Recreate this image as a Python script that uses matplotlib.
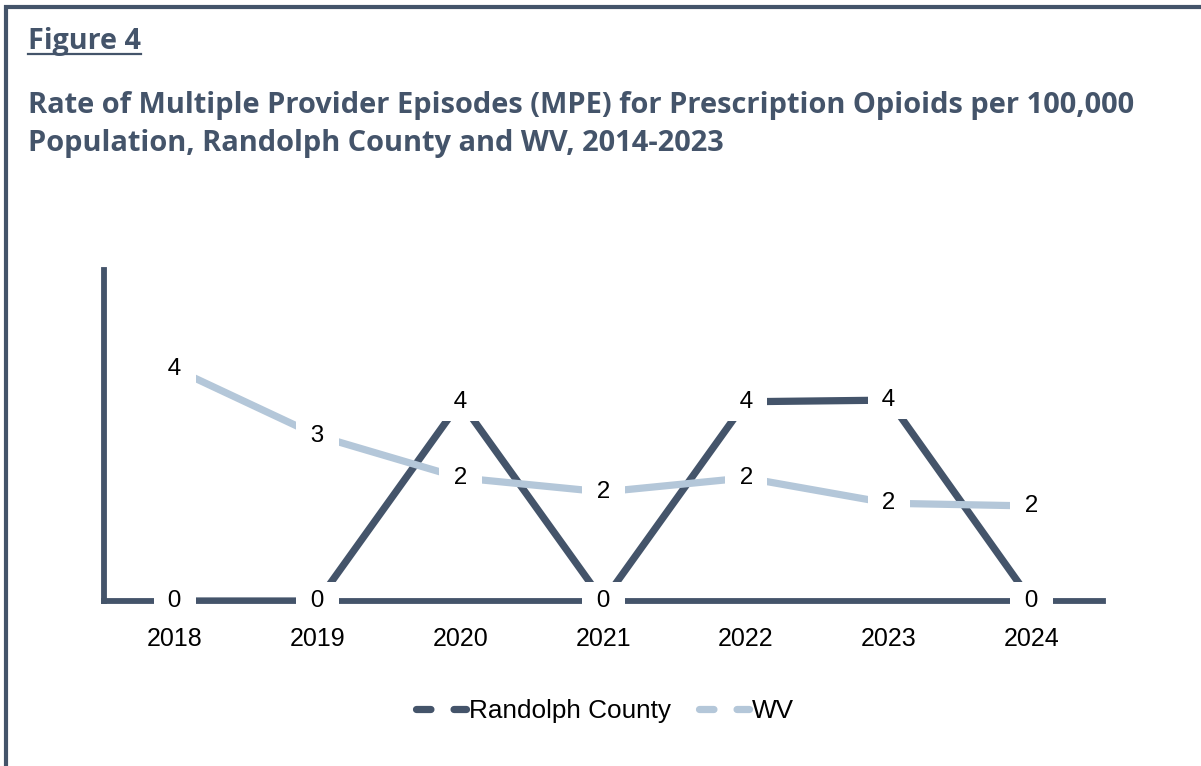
import matplotlib.pyplot as plt
from matplotlib.lines import Line2D
import numpy as np

# data (rate per 100,000)
years = ['2018', '2019', '2020', '2021', '2022', '2023', '2024']
randolph = [0, 0, 3.69, 0, 3.69, 3.72, 0]
wv = [4.30, 3.06, 2.28, 2.02, 2.28, 1.81, 1.76]
series_names = ['Randolph County', 'WV']

slate = '#44546A'
light = '#B4C7D9'
W, H = 1201, 766

plt.rcParams['font.family'] = ['Liberation Sans', 'DejaVu Sans']

fig = plt.figure(figsize=(W / 100, H / 100), dpi=100)
fig.patch.set_facecolor('white')

# frame lines (top and left only)
fig.add_artist(Line2D([4 / W, 1], [1 - 7 / H, 1 - 7 / H], transform=fig.transFigure,
                      color=slate, lw=3, solid_capstyle='butt'))
fig.add_artist(Line2D([6 / W, 6 / W], [0, 1 - 5 / H], transform=fig.transFigure,
                      color=slate, lw=3, solid_capstyle='butt'))

# titles
tfont = ['Open Sans', 'DejaVu Sans']
t_fig = fig.text(28 / W, 1 - 42 / H, 'Figure 4', color=slate, fontsize=20.7,
                 fontweight='bold', family=tfont, ha='left', va='center')
fig.text(28 / W, 1 - 106 / H,
         'Rate of Multiple Provider Episodes (MPE) for Prescription Opioids per 100,000',
         color=slate, fontsize=20.9, fontweight='bold', family=tfont,
         ha='left', va='center')
fig.text(28 / W, 1 - 144 / H, 'Population, Randolph County and WV, 2014-2023',
         color=slate, fontsize=20.9, fontweight='bold', family=tfont,
         ha='left', va='center')

ax = fig.add_axes([103.5 / W, (H - 601) / H, (1103 - 103.5) / W, (601 - 270) / H])
x = np.arange(len(years))

ax.plot(x, randolph, color=slate, lw=5.2, solid_capstyle='butt', zorder=3)
ax.plot(x, wv, color=light, lw=5.2, solid_capstyle='butt', zorder=4)

for xi, v in zip(x, randolph):
    ax.text(xi, v, ' %.0f ' % v, ha='center', va='center', fontsize=17.5, color='black',
            zorder=6, bbox=dict(boxstyle='square,pad=0.32', fc='white', ec='none'))
for xi, v in zip(x, wv):
    ax.text(xi, v, ' %.0f ' % v, ha='center', va='center', fontsize=17.5, color='black',
            zorder=6, bbox=dict(boxstyle='square,pad=0.32', fc='white', ec='none'))

ax.set_xlim(-0.5, len(years) - 0.5)
ax.set_ylim(0, (601 - 270) / 54)
ax.set_xticks(x)
ax.set_xticklabels(years, fontsize=18, color='black')
ax.set_yticks([])
ax.tick_params(axis='x', length=0, pad=19)
for s in ['top', 'right']:
    ax.spines[s].set_visible(False)
for s in ['left', 'bottom']:
    ax.spines[s].set_color(slate)
    ax.spines[s].set_linewidth(4.2)
    ax.spines[s].set_zorder(2.5)
ax.set_facecolor('none')

handles = [Line2D([], [], color=slate, lw=5.2, dashes=(2, 3.2), dash_capstyle='round'),
           Line2D([], [], color=light, lw=5.2, dashes=(2, 3.2), dash_capstyle='round')]
fig.legend(handles, series_names, loc='center', bbox_to_anchor=(605 / W, 1 - 711 / H),
           ncol=2, frameon=False, fontsize=18.8, handlelength=1.9, handletextpad=0.1,
           columnspacing=1.1)

# underline for "Figure 4"
fig.canvas.draw()
bb = t_fig.get_window_extent()
fig.add_artist(Line2D([bb.x0 / W, bb.x1 / W], [1 - 54 / H, 1 - 54 / H],
                      transform=fig.transFigure, color=slate, lw=1.6))

fig.savefig('out.png', dpi=100)
